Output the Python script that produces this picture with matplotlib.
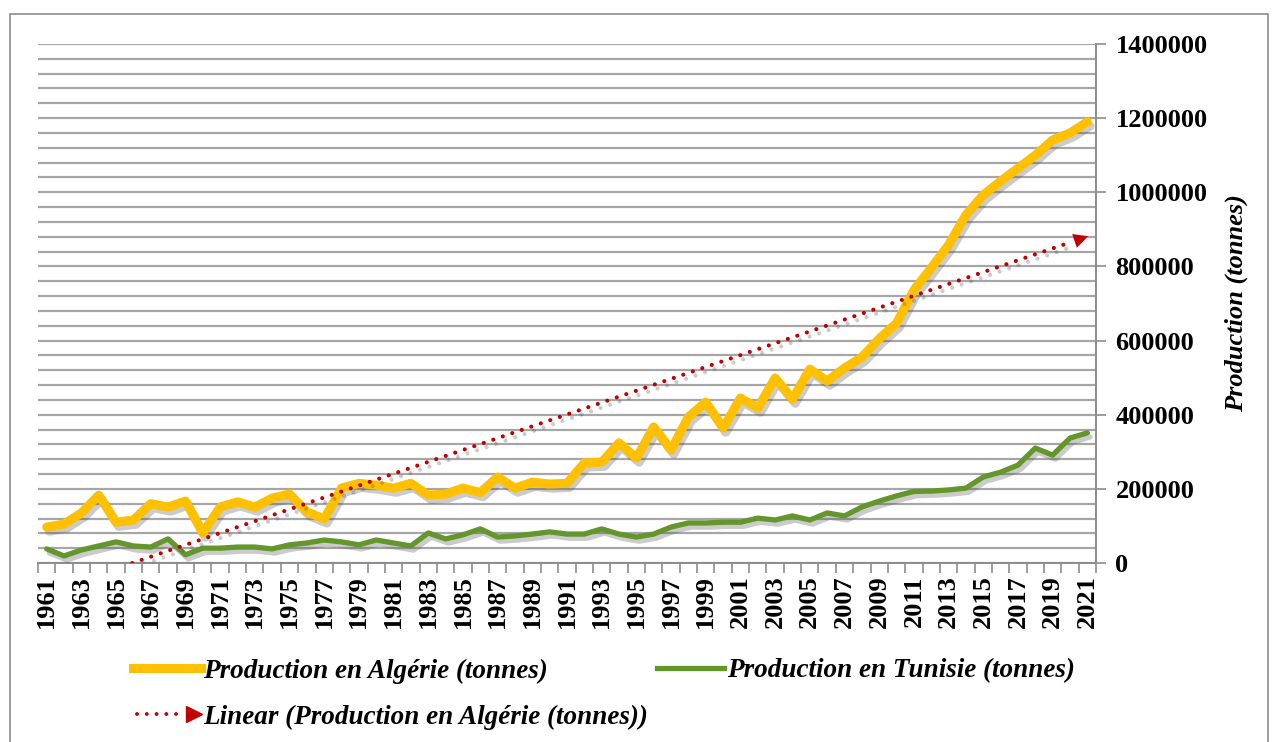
import numpy as np
import matplotlib
matplotlib.use('Agg')
import matplotlib.pyplot as plt
import matplotlib.patheffects as pe
from matplotlib.lines import Line2D
from matplotlib.legend_handler import HandlerBase
from matplotlib.patches import Rectangle
from matplotlib.ticker import FuncFormatter

years = np.arange(1961, 2022)

# production (tonnes)
algerie = [97000, 105000, 135000, 183000, 110000, 116000, 160000, 151000, 167000, 81000,
           151000, 165000, 151000, 175000, 186000, 138000, 119000, 202000, 215000, 210000,
           202000, 215000, 183000, 186000, 202000, 190000, 232000, 202000, 218000, 213000,
           215000, 270000, 272000, 324000, 283000, 367000, 305000, 394000, 434000, 364000,
           445000, 418000, 499000, 442000, 523000, 491000, 526000, 555000, 605000, 647000,
           736000, 796000, 858000, 939000, 993000, 1030000, 1065000, 1100000, 1141000, 1160000,
           1190000]
tunisie = [38000, 19000, 35000, 46000, 57000, 46000, 43000, 65000, 22000, 40000,
           40000, 43000, 43000, 38000, 49000, 54000, 62000, 57000, 49000, 62000,
           54000, 46000, 81000, 65000, 76000, 92000, 70000, 73000, 78000, 84000,
           78000, 78000, 92000, 78000, 70000, 78000, 97000, 108000, 108000, 110000,
           110000, 121000, 116000, 127000, 116000, 135000, 127000, 151000, 167000, 181000,
           193000, 194000, 197000, 202000, 232000, 245000, 264000, 310000, 291000, 337000,
           351000]

lbl_alg = 'Production en Algérie (tonnes)'
lbl_tun = 'Production en Tunisie (tonnes)'
lbl_lin = 'Linear (Production en Algérie (tonnes))'

c_alg = '#FFC000'
c_tun = '#63962B'
c_lin = '#C00000'

serif = 'Liberation Serif'

# least-squares trend of the Algerian series
slope, icpt = np.polyfit(years, algerie, 1)
trend = slope * years + icpt


class HandlerTrend(HandlerBase):
    def create_artists(self, legend, orig_handle, xdescent, ydescent,
                       width, height, fontsize, trans):
        y = height / 2 - ydescent
        x0 = -xdescent
        dots = Line2D([x0 + 3, x0 + width * 0.74], [y, y], color=c_lin, lw=2.8,
                      linestyle=(0, (0.01, 2.5)), dash_capstyle='round', transform=trans)
        tip = Line2D([x0 + width * 0.9], [y], marker='>', markersize=11, color=c_lin,
                     linestyle='none', transform=trans)
        return [dots, tip]


fig = plt.figure(figsize=(12.72, 7.42), dpi=100)
fig.patches.append(Rectangle((10 / 1272, -0.05), 1258 / 1272, 1.05 - 14 / 742,
                             transform=fig.transFigure, fill=False,
                             edgecolor='#8c8c8c', lw=1.2))
ax = fig.add_axes([38 / 1272, 1 - 563 / 742, (1096 - 38) / 1272, (563 - 44) / 742])

shadow = [pe.SimpleLineShadow(offset=(2, -3), shadow_color='#555555', alpha=0.3),
          pe.Normal()]

ax.plot(years, algerie, color=c_alg, lw=6.5, solid_joinstyle='round',
        solid_capstyle='round', path_effects=shadow, zorder=4)
ax.plot(years, tunisie, color=c_tun, lw=3.8, solid_joinstyle='round',
        solid_capstyle='round', path_effects=shadow, zorder=4)
ax.plot(years[:-1], trend[:-1], color=c_lin, lw=3.0, linestyle=(0, (0.01, 2.4)),
        dash_capstyle='round', path_effects=shadow, zorder=5)
ax.annotate('', xy=(years[-1] + 0.2, trend[-1] + 0.2 * slope),
            xytext=(years[-1] - 0.9, trend[-1] - 0.9 * slope),
            arrowprops=dict(arrowstyle='-|>', color=c_lin, lw=0, mutation_scale=26),
            zorder=6)

ax.set_xlim(1960.5, 2021.5)
ax.set_ylim(0, 1400000)

# y axis on the right, gridlines every 40000
ax.yaxis.tick_right()
ax.yaxis.set_label_position('right')
ax.set_yticks(np.arange(0, 1400001, 200000))
ax.set_yticks(np.arange(0, 1400001, 40000), minor=True)
ax.yaxis.set_major_formatter(FuncFormatter(lambda v, p: '%d' % v))
ax.grid(which='both', axis='y', color='#a6a6a6', lw=1.6, zorder=1)
ax.tick_params(axis='y', which='major', length=7, width=1.2, color='#8c8c8c', pad=7)
ax.tick_params(axis='y', which='minor', length=0)
for t in ax.get_yticklabels():
    t.set_fontfamily(serif)
    t.set_fontweight('bold')
    t.set_fontsize(19)
ax.set_ylabel('Production (tonnes)', fontfamily=serif, fontweight='bold',
              fontstyle='italic', fontsize=19, labelpad=12)

# category axis: labels every 2 years, tick marks between categories
ax.set_xticks(years[::2])
ax.set_xticklabels([str(y) for y in years[::2]], rotation=90, fontfamily=serif,
                   fontweight='bold', fontsize=19)
ax.set_xticks(np.arange(1960.5, 2022, 1), minor=True)
ax.tick_params(axis='x', which='major', length=0, pad=9)
ax.tick_params(axis='x', which='minor', length=7, width=1.2, color='#8c8c8c')

for s in ['top', 'left']:
    ax.spines[s].set_visible(False)
for s in ['bottom', 'right']:
    ax.spines[s].set_color('#8c8c8c')
    ax.spines[s].set_linewidth(1.4)

leg_font = dict(family=serif, weight='bold', style='italic', size=19.5)
h_alg = Line2D([], [], color=c_alg, lw=6.5)
h_tun = Line2D([], [], color=c_tun, lw=3.8)
h_lin = Line2D([], [], color=c_lin)
leg1 = fig.legend([h_alg, h_tun], [lbl_alg, lbl_tun], ncol=2,
                  loc='center left', bbox_to_anchor=(133 / 1272, 1 - 671 / 742),
                  frameon=False, handlelength=2.5, handletextpad=0.1,
                  columnspacing=4.0, borderpad=0, borderaxespad=0, prop=leg_font)
fig.legend([h_lin], [lbl_lin],
           loc='center left', bbox_to_anchor=(133 / 1272, 1 - 717 / 742),
           frameon=False, handlelength=2.5, handletextpad=0.1,
           borderpad=0, borderaxespad=0, handler_map={h_lin: HandlerTrend()},
           prop=leg_font)

fig.savefig('out.png', dpi=100)
